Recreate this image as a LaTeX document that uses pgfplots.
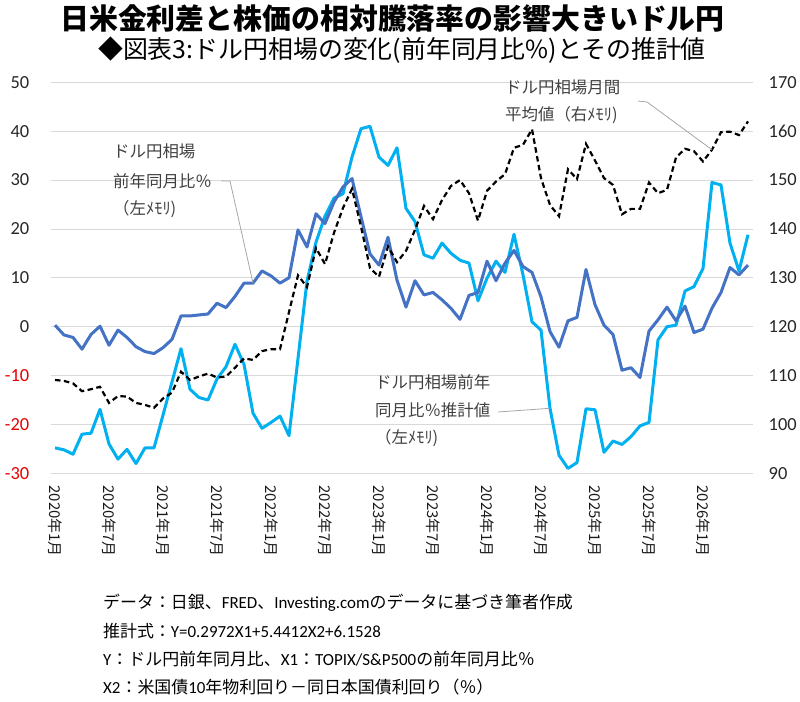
\documentclass[border=0pt]{standalone}
\usepackage{fontspec}
\setmainfont{Carlito}
\newfontfamily\jp{Noto Sans CJK JP}
\usepackage{pgfplots}
\usepackage{pgfplotstable}
\pgfplotsset{compat=1.18}
\definecolor{dblue}{RGB}{68,114,196}
\definecolor{lblue}{RGB}{0,176,240}
\definecolor{gridgray}{RGB}{217,217,217}
\definecolor{annot}{RGB}{64,64,64}
\definecolor{leader}{RGB}{166,166,166}
\definecolor{negred}{RGB}{230,0,0}

\pgfplotstableread{
i act est usd
0 0.3 -24.8 109.1
1 -1.7 -25.2 108.9
2 -2.2 -26.1 108.4
3 -4.6 -22.0 106.8
4 -1.6 -21.8 107.2
5 0.1 -16.9 107.7
6 -3.8 -24.0 104.4
7 -0.7 -27.1 105.8
8 -2.2 -25.1 105.7
9 -4.1 -28.0 104.4
10 -5.1 -24.8 104.0
11 -5.5 -24.8 103.4
12 -4.3 -18.1 105.3
13 -2.6 -11.3 106.5
14 2.2 -4.5 110.8
15 2.2 -12.8 109.1
16 2.4 -14.5 109.8
17 2.6 -15.0 110.4
18 4.8 -10.7 109.6
19 3.9 -8.2 109.8
20 6.2 -3.6 111.6
21 8.9 -7.7 113.5
22 8.9 -17.7 113.2
23 11.4 -20.8 115.0
24 10.4 -19.6 115.4
25 8.9 -18.3 115.4
26 10.0 -22.3 123.0
27 19.8 -6.5 130.5
28 16.3 9.3 128.1
29 23.1 17.3 136.1
30 21.1 22.6 132.8
31 25.5 26.3 139.2
32 28.6 27.2 144.3
33 30.3 34.7 148.2
34 22.5 40.5 140.5
35 14.9 41.0 132.0
36 12.6 34.7 130.2
37 18.3 33.0 136.4
38 9.5 36.6 133.2
39 4.0 24.2 135.5
40 9.4 21.5 139.8
41 6.5 14.7 144.7
42 7.0 14.0 142.0
43 5.5 17.1 145.9
44 3.75 15.0 148.8
45 1.5 13.6 150.0
46 6.4 13.0 147.3
47 7.0 5.3 141.7
48 13.4 9.9 147.8
49 9.4 13.4 149.7
50 13.0 11.1 151.2
51 15.6 18.9 156.6
52 12.3 10.6 157.2
53 11.1 1.0 160.4
54 6.1 -0.7 150.4
55 -1.0 -16.7 144.9
56 -4.2 -26.3 142.6
57 1.2 -29.0 152.2
58 1.9 -27.8 150.2
59 11.7 -16.8 157.4
60 4.5 -17.0 154.0
61 0.3 -25.7 150.4
62 -1.6 -23.4 149.0
63 -8.9 -24.1 143.0
64 -8.4 -22.5 144.1
65 -10.4 -20.3 144.1
66 -0.9 -19.6 149.5
67 1.4 -2.7 147.3
68 4.0 0.0 148.0
69 1.2 0.3 154.6
70 4.2 7.3 156.4
71 -1.2 8.2 155.9
72 -0.5 11.9 153.8
73 3.8 29.5 156.2
74 7.0 29.0 159.8
75 12.1 17.1 159.9
76 10.6 11.4 159.2
77 12.6 18.8 162.0
}\datatable

\begin{document}
\begin{tikzpicture}
\path[use as bounding box] (0bp,0bp) rectangle (800bp,702bp);

% titles
\node[anchor=center, inner sep=0pt] at (392.5bp,683bp) {\jp\bfseries\fontsize{29}{29}\selectfont 日米金利差と株価の相対騰落率の影響大きいドル円};
\node[anchor=center, inner sep=0pt] at (402bp,652bp) {\jp\fontsize{25}{25}\selectfont ◆図表3:ドル円相場の変化(前年同月比\%)とその推計値};

\begin{axis}[
  name=main,
  at={(50.5bp,228.7bp)}, anchor=south west,
  scale only axis, width=702bp, height=391bp,
  xmin=-0.5, xmax=77.5, ymin=-30, ymax=50,
  axis line style={draw=none},
  tick style={draw=none}, major tick length=0pt,
  ytick={-30,-20,-10,0,10,20,30,40,50},
  yticklabels={\textcolor{negred}{-30},\textcolor{negred}{-20},\textcolor{negred}{-10},0,10,20,30,40,50},
  yticklabel style={font=\fontsize{18.5}{18.5}\selectfont, color=black!85, anchor=east, inner sep=0pt, xshift=-21bp},
  ymajorgrids, grid style={color=gridgray, line width=0.8bp},
  xtick={0,6,12,18,24,30,36,42,48,54,60,66,72},
  xticklabels={2020年1月,2020年7月,2021年1月,2021年7月,2022年1月,2022年7月,2023年1月,2023年7月,2024年1月,2024年7月,2025年1月,2025年7月,2026年1月},
  xticklabel style={font=\jp\fontsize{15}{15}\selectfont, color=black!90, anchor=west, inner sep=0pt, yshift=-12bp, rotate=-90},
  clip=false,
]
\addplot[color=lblue, line width=3bp, line join=round] table[x=i, y=est] {\datatable};
\addplot[color=dblue, line width=3bp, line join=round] table[x=i, y=act] {\datatable};
\draw[leader, line width=0.8bp] (220bp-50.5bp,0) ++(0,0) coordinate (dummy);
\end{axis}

\begin{axis}[
  at={(50.5bp,228.7bp)}, anchor=south west,
  scale only axis, width=702bp, height=391bp,
  xmin=-0.5, xmax=77.5, ymin=90, ymax=170,
  axis x line=none, axis y line*=right,
  axis line style={draw=none},
  tick style={draw=none}, major tick length=0pt,
  ytick={90,100,110,120,130,140,150,160,170},
  yticklabels={90,100,110,120,130,140,150,160,170},
  yticklabel style={font=\fontsize{18.5}{18.5}\selectfont, color=black!85, anchor=west, inner sep=0pt, xshift=16bp},
  clip=false,
]
\addplot[color=black, line width=2.2bp, dash pattern=on 5.5bp off 3.5bp] table[x=i, y=usd] {\datatable};
\coordinate (usdpt) at (axis cs:73,156.2);
\coordinate (actpt) at (axis cs:22,128.9);
\coordinate (estpt) at (axis cs:55,103.3);
\end{axis}

% annotations
\begin{scope}[every node/.style={anchor=west, inner sep=0pt, text=annot, font=\jp\fontsize{16.5}{16.5}\selectfont}]
\node at (113bp,551bp) {ドル円相場};
\node at (113bp,521bp) {前年同月比％};
\node at (113bp,493bp) {（左ﾒﾓﾘ)};
\node at (505bp,615bp) {ドル円相場月間};
\node at (505bp,587bp) {平均値（右ﾒﾓﾘ)};
\node at (375bp,320bp) {ドル円相場前年};
\node at (375bp,292bp) {同月比％推計値};
\node at (375bp,264bp) {（左ﾒﾓﾘ)};
\end{scope}
\draw[leader, line width=0.8bp] (221bp,521bp) -- (230bp,521bp) -- (actpt);
\draw[leader, line width=0.8bp] (638bp,601bp) -- (647bp,600bp) -- (usdpt);
\draw[leader, line width=0.8bp] (498bp,290bp) -- (estpt);

% footnotes
\begin{scope}[every node/.style={anchor=west, inner sep=0pt, text=black, font=\jp\fontsize{17}{17}\selectfont}]
\newcommand{\lt}[1]{{\fontspec{Carlito}#1}}
\node at (103bp,99bp) {データ：日銀、\lt{FRED}、\lt{Investing.com}のデータに基づき筆者作成};
\node at (103bp,71bp) {推計式：\lt{Y=0.2972X1+5.4412X2+6.1528}};
\node at (103bp,43bp) {\lt{Y}：ドル円前年同月比、\lt{X1}：\lt{TOPIX/S\&P500}の前年同月比％};
\node at (103bp,15bp) {\lt{X2}：米国債\lt{10}年物利回り－同日本国債利回り（％）};
\end{scope}
\end{tikzpicture}
\end{document}
